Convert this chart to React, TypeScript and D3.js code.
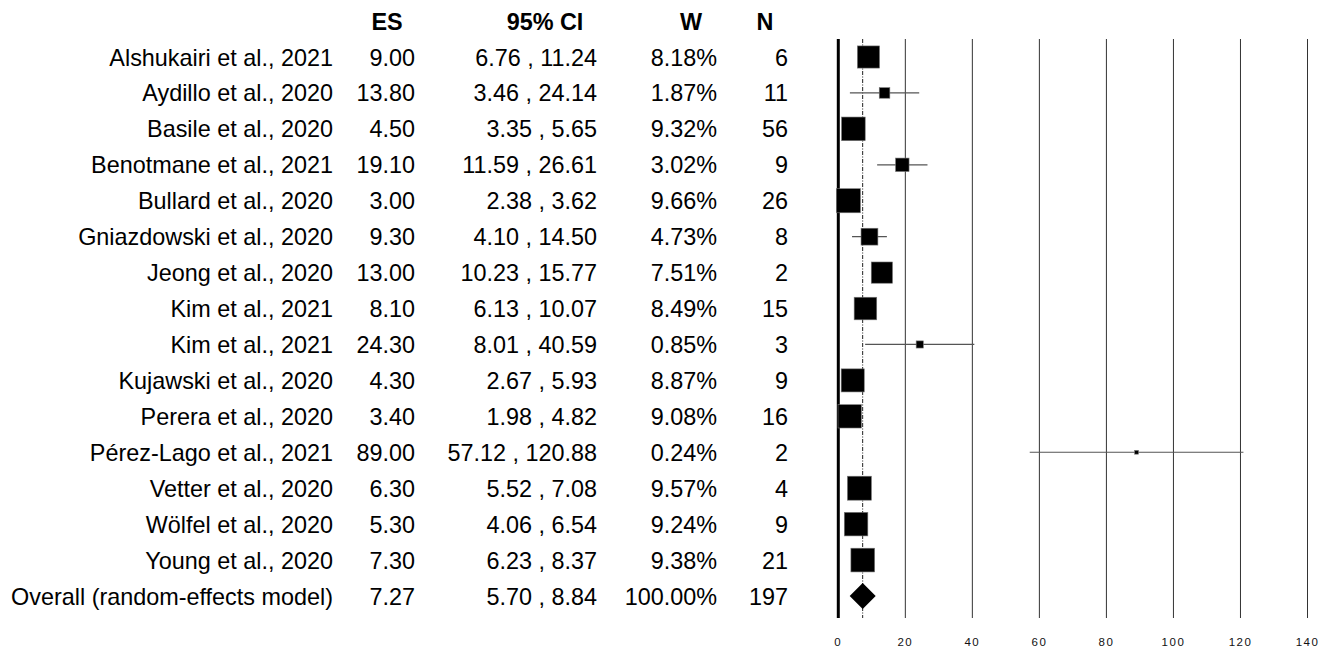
import React from "react"
import * as d3 from "d3"

const studies = [
  "Alshukairi et al., 2021",
  "Aydillo et al., 2020",
  "Basile et al., 2020",
  "Benotmane et al., 2021",
  "Bullard et al., 2020",
  "Gniazdowski et al., 2020",
  "Jeong et al., 2020",
  "Kim et al., 2021",
  "Kim et al., 2021",
  "Kujawski et al., 2020",
  "Perera et al., 2020",
  "Pérez-Lago et al., 2021",
  "Vetter et al., 2020",
  "Wölfel et al., 2020",
  "Young et al., 2020"
]
const es = [9.0, 13.8, 4.5, 19.1, 3.0, 9.3, 13.0, 8.1, 24.3, 4.3, 3.4, 89.0, 6.3, 5.3, 7.3]
const lower = [6.76, 3.46, 3.35, 11.59, 2.38, 4.1, 10.23, 6.13, 8.01, 2.67, 1.98, 57.12, 5.52, 4.06, 6.23]
const upper = [11.24, 24.14, 5.65, 26.61, 3.62, 14.5, 15.77, 10.07, 40.59, 5.93, 4.82, 120.88, 7.08, 6.54, 8.37]
const weights = [8.18, 1.87, 9.32, 3.02, 9.66, 4.73, 7.51, 8.49, 0.85, 8.87, 9.08, 0.24, 9.57, 9.24, 9.38]
const ns = [6, 11, 56, 9, 26, 8, 2, 15, 3, 9, 16, 2, 4, 9, 21]

const overallLabel = "Overall (random-effects model)"
const overallES = 7.27
const overallLower = 5.7
const overallUpper = 8.84
const overallW = 100.0
const overallN = 197

const xTicks = [0, 20, 40, 60, 80, 100, 120, 140]

const font = "'Liberation Sans', Arial, sans-serif"

export default function App() {
  const x = d3.scaleLinear().domain([0, 140]).range([838.3, 1307.5])
  const rows = d3.range(studies.length + 1)
  const y = d3.scaleLinear().domain([0, 15]).range([57, 596])
  const side = d3.scaleSqrt().domain([0, 10]).range([0, 24.5])
  const plotTop = 39
  const plotBottom = 618
  const fs = 23.4
  const base = 8.5

  const cols = { name: 333, es: 415, ci: 597, w: 717, n: 788 }

  const diamond = (cx: number, cy: number) => {
    const h = 13
    return `M${cx - h},${cy}L${cx},${cy - h}L${cx + h},${cy}L${cx},${cy + h}Z`
  }

  return (
    <svg
      width={1335}
      height={655}
      style={{ position: "absolute", left: 0, top: 0, background: "white" }}
      fontFamily={font}
    >
      {/* header */}
      <g fontWeight="bold" fontSize={fs} fill="#000">
        <text x={387} y={30} textAnchor="middle">ES</text>
        <text x={545} y={30} textAnchor="middle">95% CI</text>
        <text x={691} y={30} textAnchor="middle">W</text>
        <text x={765} y={30} textAnchor="middle">N</text>
      </g>

      {/* table */}
      <g fontSize={fs} fill="#000">
        {rows.map(i => {
          const last = i === studies.length
          const yy = y(i) + base
          return (
            <g key={i}>
              <text x={cols.name} y={yy} textAnchor="end">
                {last ? overallLabel : studies[i]}
              </text>
              <text x={cols.es} y={yy} textAnchor="end">
                {(last ? overallES : es[i]).toFixed(2)}
              </text>
              <text x={cols.ci} y={yy} textAnchor="end">
                {(last ? overallLower : lower[i]).toFixed(2)} , {(last ? overallUpper : upper[i]).toFixed(2)}
              </text>
              <text x={cols.w} y={yy} textAnchor="end">
                {(last ? overallW : weights[i]).toFixed(2)}%
              </text>
              <text x={cols.n} y={yy} textAnchor="end">
                {last ? overallN : ns[i]}
              </text>
            </g>
          )
        })}
      </g>

      {/* grid lines */}
      {xTicks.slice(1).map(t => (
        <line
          key={t}
          x1={x(t)}
          x2={x(t)}
          y1={plotTop}
          y2={plotBottom}
          stroke="#333"
          strokeWidth={1}
        />
      ))}
      <line x1={x(0)} x2={x(0)} y1={plotTop} y2={plotBottom} stroke="#000" strokeWidth={3} />
      <line
        x1={x(overallES)}
        x2={x(overallES)}
        y1={plotTop}
        y2={plotBottom}
        stroke="#222"
        strokeWidth={1}
        strokeDasharray="4 1.5 1 1.5"
      />

      {/* CIs and squares */}
      {studies.map((_, i) => {
        const s = side(weights[i])
        return (
          <g key={i}>
            <line
              x1={x(lower[i])}
              x2={x(upper[i])}
              y1={y(i)}
              y2={y(i)}
              stroke="#555"
              strokeWidth={1.2}
            />
            <rect
              x={x(es[i]) - s / 2}
              y={y(i) - s / 2}
              width={s}
              height={s}
              fill="#000"
              stroke="#777"
              strokeWidth={0.6}
            />
          </g>
        )
      })}
      <path d={diamond(x(overallES), y(studies.length))} fill="#000" />

      {/* axis labels */}
      <g fontSize={11.5} fill="#111" letterSpacing={1.5}>
        {xTicks.map(t => (
          <text key={t} x={x(t)} y={646} textAnchor="middle">
            {t}
          </text>
        ))}
      </g>
    </svg>
  )
}
